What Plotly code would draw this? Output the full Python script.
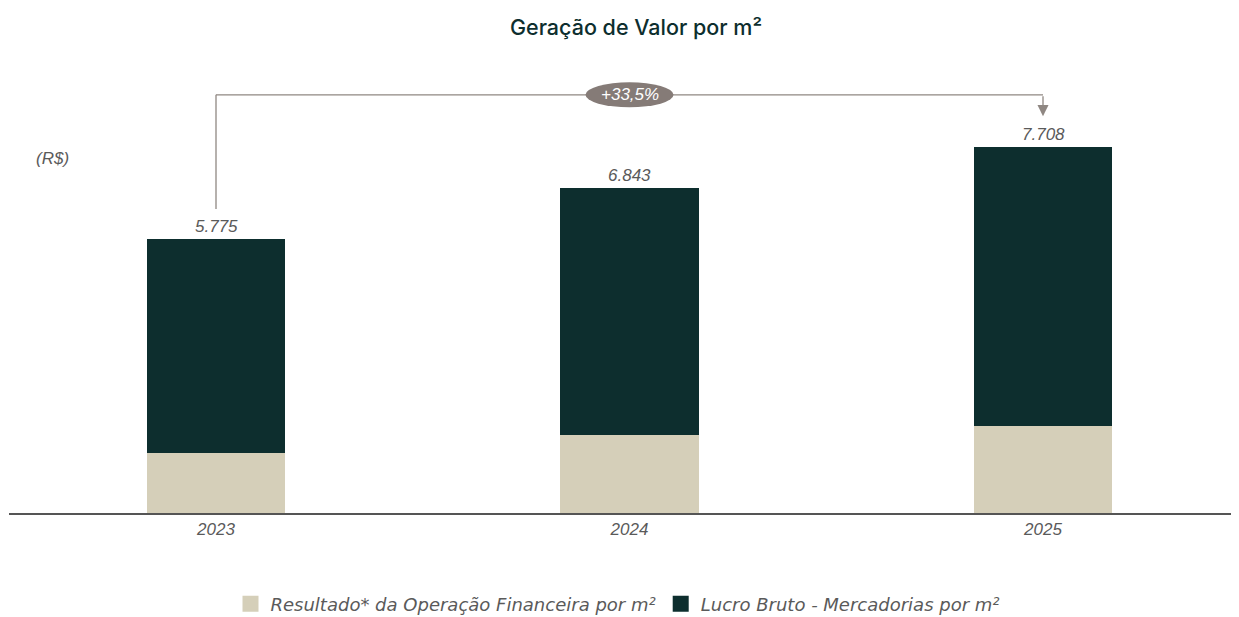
import plotly.graph_objects as go

years = ["2023", "2024", "2025"]
financeira = [1264, 1643, 1833]
lucro = [4511, 5200, 5875]
totals = [f + l for f, l in zip(financeira, lucro)]
total_labels = ["5.775", "6.843", "7.708"]
growth_label = "+33,5%"

BEIGE = "#d5cfb9"
DARK = "#0d2e2e"
GRAY_TXT = "#5a5a5a"
LINE_GRAY = "#8f8782"
PILL = "#857b77"
FONT = "Liberation Sans"

# page body has an 8px margin
W, H = 1231, 609
L, T = 1, 52
BASE = 505  # baseline y inside figure
B = H - BASE
plot_h = BASE - T
px_per_unit = 0.04748

x_idx = list(range(len(years)))

fig = go.Figure()
fig.add_trace(go.Bar(x=x_idx, y=financeira, marker_color=BEIGE, width=0.334,
                     showlegend=False, hoverinfo="skip", marker_line_width=0))
fig.add_trace(go.Bar(x=x_idx, y=lucro, marker_color=DARK, width=0.334,
                     showlegend=False, hoverinfo="skip", marker_line_width=0))
# legend proxies
fig.add_trace(go.Scatter(x=[None], y=[None], mode="markers",
                         marker=dict(symbol="square", size=16, color=BEIGE),
                         name="Resultado* da Operação Financeira por m²"))
fig.add_trace(go.Scatter(x=[None], y=[None], mode="markers",
                         marker=dict(symbol="square", size=16, color=DARK),
                         name="Lucro Bruto - Mercadorias por m²"))

annotations = []
for i, (t, lab) in enumerate(zip(totals, total_labels)):
    annotations.append(dict(x=i, y=t, text=f"<i>{lab}</i>", showarrow=False,
                            yanchor="bottom", yshift=1,
                            font=dict(family=FONT, size=17, color=GRAY_TXT)))

bracket_y = max(totals) + 1100
left_bottom = totals[0] + 630
arrow_tip = totals[-1] + 650

shapes = [
    dict(type="line", xref="x", yref="y", x0=0, x1=0, y0=left_bottom, y1=bracket_y,
         line=dict(color=LINE_GRAY, width=1.3)),
    dict(type="line", xref="x", yref="y", x0=0, x1=2, y0=bracket_y, y1=bracket_y,
         line=dict(color=LINE_GRAY, width=1.3)),
    dict(type="circle", xref="x", yref="y", xsizemode="pixel", ysizemode="pixel",
         xanchor=1, yanchor=bracket_y, x0=-44, x1=44, y0=-12.5, y1=12.5,
         fillcolor=PILL, line=dict(width=0)),
]
annotations.append(dict(x=2, y=arrow_tip, ax=2, ay=bracket_y, axref="x", ayref="y",
                        xref="x", yref="y", text="", showarrow=True,
                        arrowhead=2, arrowsize=1.7, arrowwidth=1.3, arrowcolor=LINE_GRAY))
annotations.append(dict(x=1, y=bracket_y, text=f"<i>{growth_label}</i>", showarrow=False,
                        font=dict(family=FONT, size=17, color="white")))
annotations.append(dict(x=(44 - L) / (W - L), y=(BASE - 150) / plot_h, xref="paper", yref="paper",
                        text="<i>(R$)</i>", xanchor="center", yanchor="middle",
                        showarrow=False, font=dict(family=FONT, size=17, color=GRAY_TXT)))

r0 = -(208 - L) / 413.5
r1 = r0 + (W - L) / 413.5

fig.update_layout(
    width=W, height=H,
    margin=dict(l=L, r=0, t=T, b=B, autoexpand=False),
    plot_bgcolor="white", paper_bgcolor="white",
    barmode="stack",
    title=dict(text="Geração de Valor por m²", x=628 / W, xanchor="center",
               y=1 - 19 / H, yanchor="middle",
               font=dict(family="Inter", size=21.5, color=DARK, weight=500)),
    xaxis=dict(range=[r0, r1], tickvals=x_idx, ticktext=[f"<i>{y}</i>" for y in years],
               showline=True, linecolor="#555555", linewidth=1.5, showgrid=False,
               zeroline=False, ticks="", tickfont=dict(family=FONT, size=17, color=GRAY_TXT),
               fixedrange=True),
    yaxis=dict(range=[0, plot_h / px_per_unit], visible=False, showgrid=False, zeroline=False),
    legend=dict(orientation="h", x=609.5 / W, xanchor="center",
                y=(H - 596) / H, yref="container", yanchor="middle",
                font=dict(family="DejaVu Sans", size=18, color=GRAY_TXT, style="italic"),
                itemsizing="trace", traceorder="normal"),
    shapes=shapes,
    annotations=annotations,
)

fig.write_html("out.html")
